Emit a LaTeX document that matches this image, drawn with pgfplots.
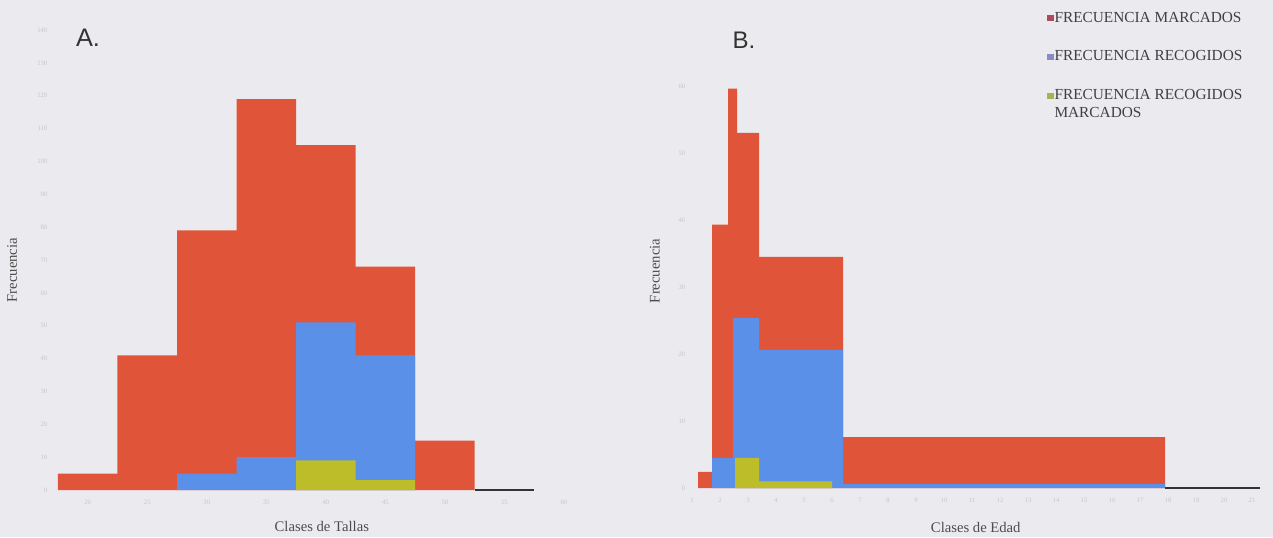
\documentclass[border=0pt]{standalone}
\usepackage{fontspec}
\setmainfont{Liberation Serif}
\newfontfamily\sansf{Liberation Sans}
\usepackage{pgfplots}
\pgfplotsset{compat=1.18}
\definecolor{bg}{HTML}{EBEAEE}
\definecolor{cred}{HTML}{E0553A}
\definecolor{cblue}{HTML}{5B90E8}
\definecolor{cgreen}{HTML}{BDBD2A}
\definecolor{lred}{HTML}{B04A5A}
\definecolor{lblue}{HTML}{8A8AC8}
\definecolor{lgreen}{HTML}{A8B450}
\begin{document}
\begin{tikzpicture}
\fill[bg] (0,0) rectangle (954.75pt,-402.75pt);
\useasboundingbox (0,0) rectangle (954.75pt,-402.75pt);
\pgfplotsset{myax/.style={scale only axis, axis line style={draw=none}, major tick length=0pt,
  tick label style={text=gray!45, font=\fontsize{5}{6}\selectfont},
  xticklabel style={yshift=-4pt},
  /pgf/number format/assume math mode=true, ymin=0, clip=false,
  label style={font=\fontsize{11}{13}\selectfont, text=black!70}}}

% Panel A
\begin{axis}[myax, at={(39pt,-367.5pt)}, anchor=south west, width=384pt, height=345pt,
  xmin=-0.1, xmax=8.5, ymax=140, ytick={0,10,...,140},
  xtick={0.5,1.5,2.5,3.5,4.5,5.5,6.5,7.5,8.5},
  xticklabels={20,25,30,35,40,45,50,55,60},
  xlabel={Clases de Tallas}, ylabel={Frecuencia},
  xlabel style={at={(axis description cs:0.527,-0.08)}, anchor=center},
  ylabel style={at={(axis description cs:-0.078,0.478)}, anchor=center}]
\addplot[const plot, fill=cred, draw=none, forget plot] coordinates {(0,5)(1,41)(2,79)(3,119)(4,105)(5,68)(6,15)(7,15)} \closedcycle;
\addplot[const plot, fill=cblue, draw=none, forget plot] coordinates {(2,5)(3,10)(4,51)(5,41)(6,41)} \closedcycle;
\addplot[const plot, fill=cgreen, draw=none, forget plot] coordinates {(4,9)(5,3)(6,3)} \closedcycle;
\addplot[black!80, line width=1pt, forget plot] coordinates {(7,0)(8,0)};
\end{axis}

% Panel B
\begin{axis}[myax, at={(517.5pt,-366pt)}, anchor=south west, width=431.25pt, height=301.5pt,
  xmin=0, xmax=575, ymax=60, ytick={0,10,...,60},
  xtick={2,30,58,86,114,142,170,198,226,254,282,310,338,366,394,422,450,478,506,534,562},
  xticklabels={1,2,3,4,5,6,7,8,9,10,11,12,13,14,15,16,17,18,19,20,21},
  xlabel={Clases de Edad}, ylabel={Frecuencia},
  xlabel style={at={(axis description cs:0.497,-0.097)}, anchor=center},
  ylabel style={at={(axis description cs:-0.061,0.54)}, anchor=center},
  legend style={at={(axis description cs:0.614,1.195)}, anchor=north west, draw=none, fill=none,
    font=\fontsize{11.5}{13}\selectfont, text=black!75, row sep=18pt,
    nodes={align=left, inner sep=1pt}},
  legend cell align=left,
  legend image code/.code={\fill[#1] (0pt,-2pt) rectangle (4pt,2pt);}]
\addplot[const plot, fill=cred, draw=none, forget plot] coordinates {(8,2.4)(22,39.3)(38,59.6)(47,53)(69,34.5)(153,7.6)(475,7.6)} \closedcycle;
\addplot[const plot, fill=cblue, draw=none, forget plot] coordinates {(22,4.5)(43,25.4)(69,20.6)(153,0.6)(475,0.6)} \closedcycle;
\addplot[const plot, fill=cgreen, draw=none, forget plot] coordinates {(45,4.5)(69,1)(142,1)} \closedcycle;
\addplot[black!80, line width=1pt, forget plot] coordinates {(475,0)(570,0)};
\addlegendimage{lred}
\addlegendentry{FRECUENCIA MARCADOS}
\addlegendimage{lblue}
\addlegendentry{FRECUENCIA RECOGIDOS}
\addlegendimage{lgreen, yshift=6.5pt}
\addlegendentry{FRECUENCIA RECOGIDOS\\MARCADOS}
\end{axis}

\node[font=\sansf\fontsize{19}{19}\selectfont, text=black!80] at (66pt,-28.5pt) {A.};
\node[font=\sansf\fontsize{18}{18}\selectfont, text=black!80] at (558pt,-30pt) {B.};
\end{tikzpicture}
\end{document}
